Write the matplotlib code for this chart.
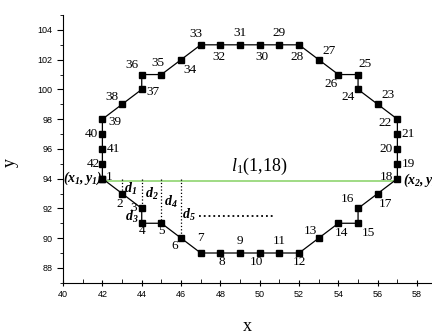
import matplotlib
matplotlib.use("Agg")
import matplotlib.pyplot as plt
from matplotlib.ticker import MultipleLocator

plt.rcParams["mathtext.fontset"] = "custom"
plt.rcParams["mathtext.rm"] = "Liberation Serif"
plt.rcParams["mathtext.it"] = "Liberation Serif:italic"
plt.rcParams["mathtext.bf"] = "Liberation Serif:bold:italic"

# contour points 1..42 (closed back to 1)
px = [42, 43, 44, 44, 45, 46, 47, 48, 49, 50, 51, 52, 53, 54, 55, 55, 56, 57, 57, 57, 57,
      57, 56, 55, 55, 54, 53, 52, 51, 50, 49, 48, 47, 46, 45, 44, 44, 43, 42, 42, 42, 42]
py = [94, 93, 92, 91, 91, 90, 89, 89, 89, 89, 89, 89, 90, 91, 91, 92, 93, 94, 95, 96, 97,
      98, 99, 100, 101, 101, 102, 103, 103, 103, 103, 103, 103, 102, 101, 101, 100, 99, 98, 97, 96, 95]
point_labels = [str(i) for i in range(1, 43)]

# line l1 between point 1 and point 18
line_x = [42, 57]
line_y = [93.85, 93.85]
line_label = "$\\mathit{l_1}$(1,18)"

# distances d1..d4 (verticals from the line down to points 2..6)
d_x = [43, 44, 45, 46]
d_top = [94, 94, 94, 94]
d_bottom = [93, 92, 91, 90]
d_labels = ["$\\mathbf{d_1}$", "$\\mathbf{d_2}$", "$\\mathbf{d_3}$", "$\\mathbf{d_4}$", "$\\mathbf{d_5}$"]
d_label_pos = [(43.45, 93.3), (44.5, 93.0), (43.5, 91.45), (45.5, 92.45), (46.4, 91.55)]
d5_x = [46.9, 50.7]
d5_y = [91.5, 91.5]

# label offsets in pixels (dx right, dy down)
offs = [(7, -2), (-2, 10), (-8, 0), (0, 8), (0, 8), (-6, 8), (0, -15), (1, 9), (0, -12), (-3, 9),
        (0, -12), (0, 9), (-8, -7), (3, 10), (10, 10), (-11, -9), (8, 10), (-11, -2), (11, 0), (-11, 0),
        (11, 0), (-12, 4), (10, -9), (-10, 8), (7, -11), (-7, 9), (10, -9), (-2, 12), (0, -12), (2, 12),
        (0, -12), (-1, 12), (-5, -11), (9, 10), (-4, -12), (-10, -10), (11, 3), (-10, -7), (12, 3), (-11, 0),
        (11, 0), (-9, 0)]

fig = plt.figure(figsize=(4.32, 3.35), dpi=100)
ax = fig.add_axes([0.146, 0.156, 0.854, 0.799])

ax.plot(line_x, line_y, color="#8fd46f", lw=1.2, zorder=1)
for x, t, b in zip(d_x, d_top, d_bottom):
    ax.plot([x, x], [t, b], color="black", ls=":", lw=0.9, zorder=1)
ax.plot(d5_x, d5_y, color="black", ls=":", lw=1.3, zorder=1)

ax.plot(px + px[:1], py + py[:1], color="black", lw=0.9, marker="s", ms=5, zorder=3)

serif = "Liberation Serif"
for x, y, lab, (dx, dy) in zip(px, py, point_labels, offs):
    ax.annotate(lab, (x, y), xytext=(dx * 0.72, -dy * 0.72), textcoords="offset points",
                ha="center", va="center", fontsize=9.5, family=serif)

for lab, (x, y) in zip(d_labels, d_label_pos):
    ax.text(x, y, lab, ha="center", va="center", fontsize=10, family=serif)

ax.text(41.0, 94.0, "$\\mathbf{(x_1,y_1)}$", ha="center", va="center", fontsize=10, family=serif)
ax.text(57.3, 93.9, "$\\mathbf{(x_2,y_2)}$", ha="left", va="center", fontsize=10, family=serif)
ax.text(50.0, 94.8, line_label, ha="center", va="center", fontsize=13, family=serif)

ax.set_xlim(40, 58.76)
ax.set_ylim(87, 105)
ax.xaxis.set_major_locator(MultipleLocator(2))
ax.xaxis.set_minor_locator(MultipleLocator(1))
ax.yaxis.set_major_locator(MultipleLocator(2))
ax.yaxis.set_minor_locator(MultipleLocator(1))
ax.set_yticks(range(88, 105, 2))
ax.spines["top"].set_visible(False)
ax.spines["right"].set_visible(False)
ax.tick_params(axis="x", which="major", direction="inout", length=5, labelsize=6.5, pad=3)
ax.tick_params(axis="x", which="minor", direction="in", length=3)
ax.tick_params(axis="y", which="major", direction="out", length=4, labelsize=6.5)
ax.tick_params(axis="y", which="minor", direction="out", length=2)
for lbl in ax.get_xticklabels() + ax.get_yticklabels():
    lbl.set_family("Liberation Sans")

ax.set_xlabel("x", family=serif, fontsize=13)
ax.set_ylabel("y", family=serif, fontsize=13)
ax.xaxis.set_label_coords(0.5, -0.13)
ax.yaxis.set_label_coords(-0.12, 0.45)

fig.savefig("out.png", dpi=100)
